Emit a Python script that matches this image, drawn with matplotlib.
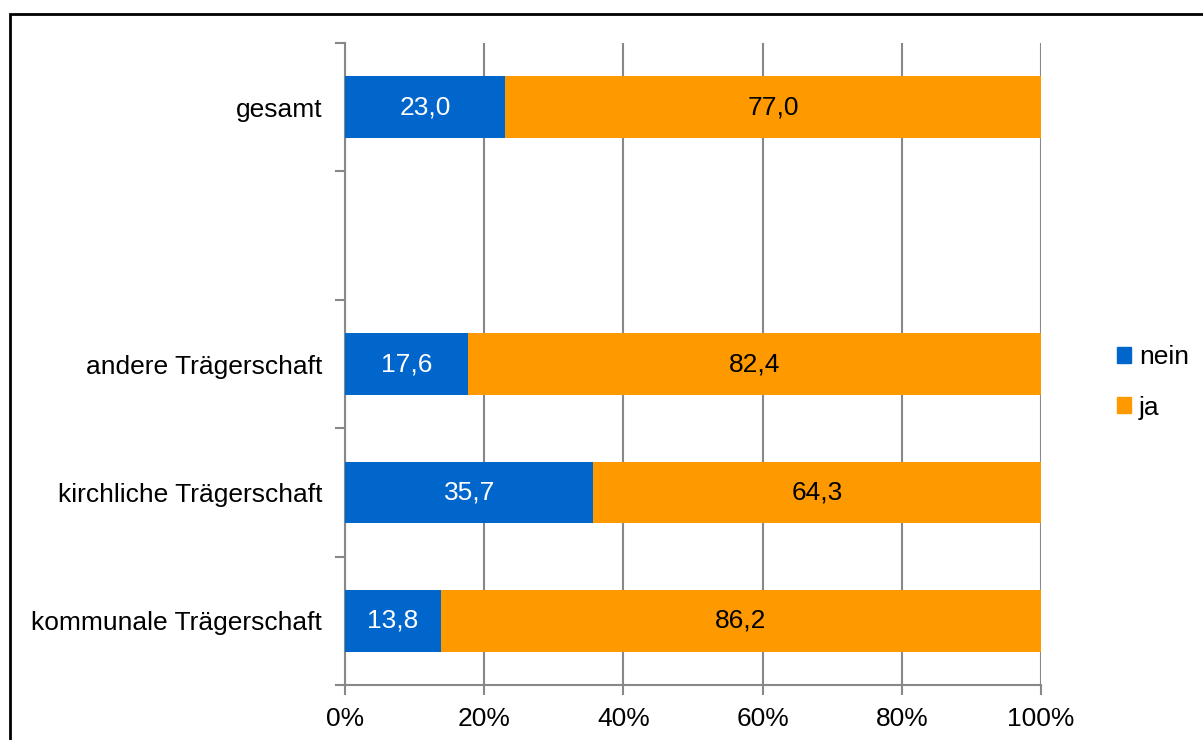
import matplotlib
matplotlib.use("Agg")
import matplotlib.pyplot as plt
from matplotlib.patches import Rectangle, Patch

plt.rcParams['font.family'] = ['Liberation Sans', 'DejaVu Sans']

categories = ['gesamt', '', 'andere Trägerschaft', 'kirchliche Trägerschaft', 'kommunale Trägerschaft']
nein = [23.0, None, 17.6, 35.7, 13.8]
ja = [77.0, None, 82.4, 64.3, 86.2]
xticks = [0, 20, 40, 60, 80, 100]

blue = '#0066CC'
orange = '#FF9900'
grey = '#888888'
fs = 19

fig = plt.figure(figsize=(12.03, 7.40), dpi=100)
ax = fig.add_axes([0.2868, 0.0743, 0.5785, 0.8676])

pos = [i + 0.5 for i in range(len(categories))]
for p, n, j in zip(pos, nein, ja):
    if n is None:
        continue
    ax.barh(p, n, height=0.48, color=blue, zorder=3)
    ax.barh(p, j, left=n, height=0.48, color=orange, zorder=3)
    ax.text(n / 2, p, f'{n:.1f}'.replace('.', ','), ha='center', va='center',
            color='white', fontsize=fs, zorder=4)
    ax.text(n + j / 2, p, f'{j:.1f}'.replace('.', ','), ha='center', va='center',
            color='black', fontsize=fs, zorder=4)

ax.set_xlim(0, 100)
ax.set_ylim(len(categories), 0)
ax.set_xticks(xticks)
ax.set_xticklabels([f'{x}%' for x in xticks], fontsize=fs)
ax.set_yticks(range(len(categories) + 1))
ax.set_yticklabels([])
ax.set_yticks(pos, minor=True)
ax.set_yticklabels(categories, minor=True, fontsize=fs)
ax.tick_params(axis='y', which='minor', length=0, pad=16.5)
ax.tick_params(axis='y', which='major', length=7, color=grey, width=1.5)
ax.tick_params(axis='x', length=7, color=grey, width=1.5, pad=9)
ax.grid(axis='x', color=grey, linewidth=1.5, zorder=0)

for s in ['top', 'right']:
    ax.spines[s].set_visible(False)
for s in ['left', 'bottom']:
    ax.spines[s].set_color(grey)
    ax.spines[s].set_linewidth(1.5)

handles = [Patch(color=blue, label='nein'), Patch(color=orange, label='ja')]
fig.legend(handles=handles, loc='center left', bbox_to_anchor=(0.9195, 0.483),
           frameon=False, fontsize=fs, handlelength=0.55, handleheight=0.55,
           handletextpad=0.3, labelspacing=1.0, borderaxespad=0)

fig.patches.append(Rectangle((9.5 / 1203, -0.1), 1.2, 1.1 - 14.5 / 740,
                             transform=fig.transFigure, fill=False,
                             edgecolor='black', linewidth=2))

fig.savefig('out.png', dpi=100)
